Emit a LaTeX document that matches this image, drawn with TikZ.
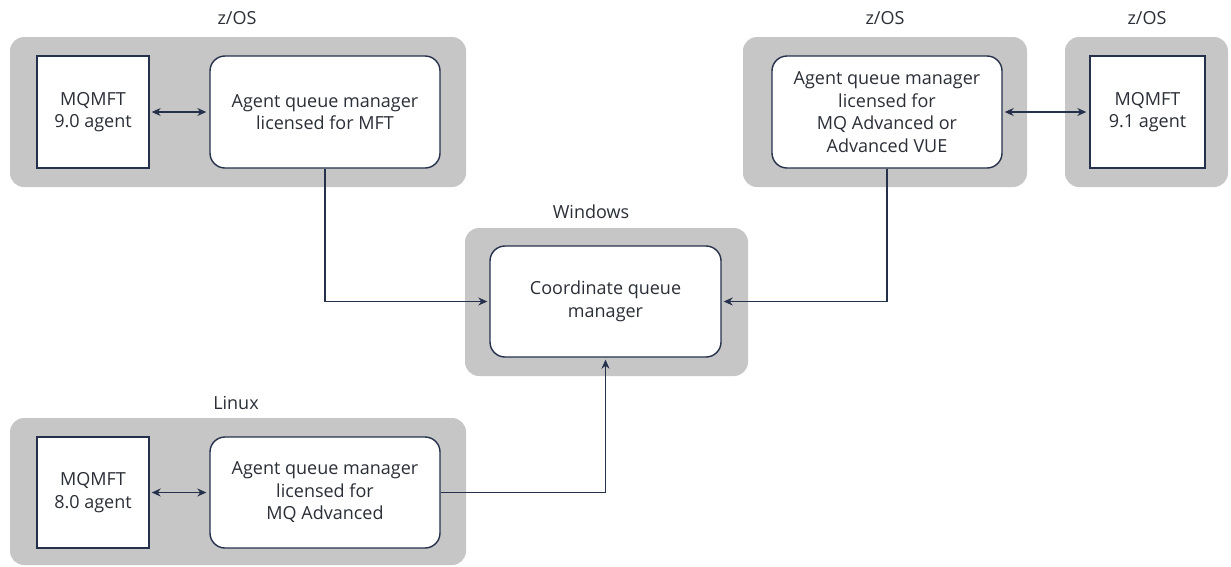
\documentclass[tikz,border=0pt]{standalone}
\usepackage{fontspec}
\setmainfont{Open Sans}
\usetikzlibrary{arrows.meta}
\definecolor{grp}{HTML}{C6C6C6}
\definecolor{ink}{HTML}{25304A}
\definecolor{txt}{HTML}{2A2E36}
\begin{document}
\begin{tikzpicture}[x=1pt,y=-1pt,
  group/.style={fill=grp,rounded corners=14pt,inner sep=0pt},
  agentbox/.style={draw=ink,fill=white,line width=1.4pt,inner sep=0pt,align=center,text=txt,font=\fontsize{18}{22.5}\selectfont},
  qmbox/.style={draw=ink,fill=white,line width=1.4pt,rounded corners=15pt,inner sep=0pt,align=center,text=txt,font=\fontsize{18}{22.5}\selectfont},
  lbl/.style={text=txt,font=\fontsize{18}{22}\selectfont,inner sep=0pt},
  conn/.style={draw=ink,line width=1.2pt,-{Stealth[length=9pt,width=8pt]}},
  biconn/.style={draw=ink,line width=1.2pt,{Stealth[length=9pt,width=8pt]}-{Stealth[length=9pt,width=8pt]},shorten <=2pt,shorten >=3pt}]
\useasboundingbox (0,0) rectangle (1231,566);
% groups
\node[group,minimum width=456pt,minimum height=150pt] (g1) at (238,112) {};
\node[group,minimum width=284pt,minimum height=150pt] (g2) at (885,112) {};
\node[group,minimum width=163pt,minimum height=150pt] (g3) at (1146.5,112) {};
\node[group,minimum width=283pt,minimum height=148pt] (g4) at (606.5,302) {};
\node[group,minimum width=456pt,minimum height=147pt] (g5) at (238,491.5) {};
% labels
\node[lbl] (l1) at (237,18) {z/OS};
\node[lbl] (l2) at (885,18) {z/OS};
\node[lbl] (l3) at (1147,18) {z/OS};
\node[lbl] (l4) at (591,212) {Windows};
\node[lbl] (l5) at (236,403) {Linux};
% boxes
\node[agentbox,minimum width=112pt,minimum height=112pt] (a90) at (93,112) {MQMFT\\9.0 agent};
\node[qmbox,minimum width=230pt,minimum height=112pt] (q1) at (325,112) {Agent queue manager\\licensed for MFT};
\node[qmbox,minimum width=230pt,minimum height=112pt] (q2) at (887,112) {Agent queue manager\\licensed for\\MQ Advanced or\\Advanced VUE};
\node[agentbox,minimum width=115pt,minimum height=112pt] (a91) at (1147.5,112) {MQMFT\\9.1 agent};
\node[qmbox,minimum width=231pt,minimum height=111pt] (qc) at (605.5,301.5) {Coordinate queue\\manager};
\node[agentbox,minimum width=112pt,minimum height=111pt] (a80) at (93,492.5) {MQMFT\\8.0 agent};
\node[qmbox,minimum width=230pt,minimum height=111pt] (q3) at (325,492.5) {Agent queue manager\\licensed for\\MQ Advanced};
% connectors
\draw[biconn] (a90.east) -- (q1.west);
\draw[biconn] (q2.east) -- (a91.west);
\draw[biconn] (a80.east) -- (q3.west);
\draw[conn,shorten >=2pt] (q1.south) |- (qc.west);
\draw[conn,shorten >=2pt] (q2.south) |- (qc.east);
\draw[conn,shorten >=2pt] (q3.east) -| (qc.south);
\end{tikzpicture}
\end{document}
